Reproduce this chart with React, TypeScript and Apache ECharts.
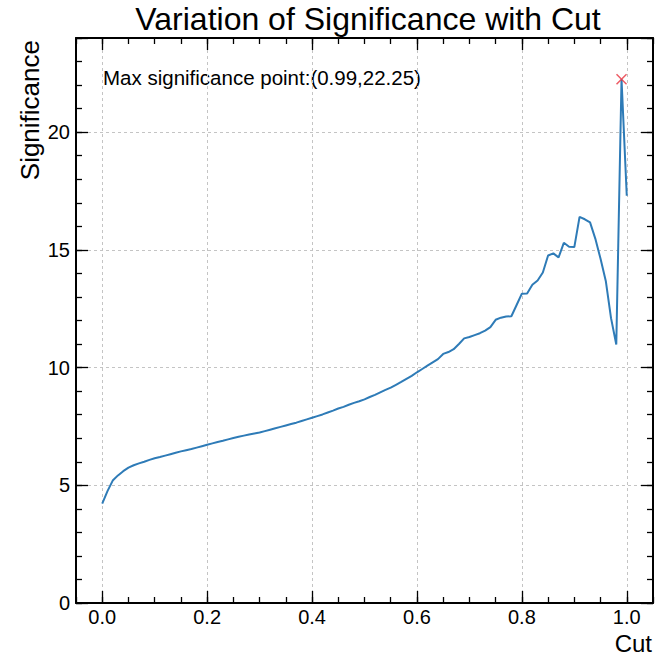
import React, { useEffect, useRef } from "react";
import * as echarts from "echarts";

const cuts = [
  0.0, 0.01, 0.02, 0.03, 0.04, 0.05, 0.06, 0.07, 0.08, 0.09,
  0.1, 0.11, 0.12, 0.13, 0.14, 0.15, 0.16, 0.17, 0.18, 0.19,
  0.2, 0.21, 0.22, 0.23, 0.24, 0.25, 0.26, 0.27, 0.28, 0.29,
  0.3, 0.31, 0.32, 0.33, 0.34, 0.35, 0.36, 0.37, 0.38, 0.39,
  0.4, 0.41, 0.42, 0.43, 0.44, 0.45, 0.46, 0.47, 0.48, 0.49,
  0.5, 0.51, 0.52, 0.53, 0.54, 0.55, 0.56, 0.57, 0.58, 0.59,
  0.6, 0.61, 0.62, 0.63, 0.64, 0.65, 0.66, 0.67, 0.68, 0.69,
  0.7, 0.71, 0.72, 0.73, 0.74, 0.75, 0.76, 0.77, 0.78, 0.79,
  0.8, 0.81, 0.82, 0.83, 0.84, 0.85, 0.86, 0.87, 0.88, 0.89,
  0.9, 0.91, 0.92, 0.93, 0.94, 0.95, 0.96, 0.97, 0.98, 0.99,
  1.0,
];

const significance = [
  4.22, 4.75, 5.2, 5.42, 5.6, 5.75, 5.85, 5.93, 6.0, 6.08,
  6.15, 6.2, 6.26, 6.32, 6.38, 6.44, 6.49, 6.54, 6.6, 6.66,
  6.72, 6.78, 6.84, 6.89, 6.95, 7.01, 7.06, 7.11, 7.16, 7.2,
  7.24, 7.3, 7.36, 7.42, 7.48, 7.54, 7.6, 7.66, 7.73, 7.8,
  7.87, 7.94, 8.01, 8.09, 8.17, 8.26, 8.33, 8.42, 8.5, 8.57,
  8.65, 8.75, 8.84, 8.95, 9.05, 9.15, 9.27, 9.39, 9.52, 9.65,
  9.8, 9.94, 10.08, 10.22, 10.36, 10.58, 10.66, 10.78, 11.0, 11.24,
  11.3, 11.38, 11.46, 11.57, 11.72, 12.03, 12.12, 12.17, 12.18, 12.66,
  13.14, 13.15, 13.52, 13.7, 14.04, 14.76, 14.85, 14.68, 15.3, 15.13,
  15.12, 16.4, 16.3, 16.17, 15.48, 14.62, 13.68, 12.1, 10.98, 22.25,
  17.3,
];

const xMajorTicks = [0, 0.2, 0.4, 0.6, 0.8, 1.0];
const yMajorTicks = [0, 5, 10, 15, 20];
const maxCut = 0.99;
const maxSignificance = 22.25;

const FONT = "'Liberation Sans', Arial, Helvetica, sans-serif";

export default function App() {
  const ref = useRef<HTMLDivElement>(null);

  useEffect(() => {
    if (!ref.current) return;
    const chart = echarts.init(ref.current, null, { renderer: "svg" });

    const X_MIN = -0.05;
    const X_MAX = 1.05;
    const Y_MIN = 0;
    const Y_MAX = 24;
    const isMajorX = (v: number) => xMajorTicks.some((t) => Math.abs(t - v) < 1e-6);
    const isMajorY = (v: number) => yMajorTicks.some((t) => Math.abs(t - v) < 1e-6);

    const tickStyle = { color: "#000", width: 1.3 };
    const frameLine = { show: true, onZero: false, lineStyle: { color: "#000", width: 2 } };
    const gridLine = { show: true, lineStyle: { color: "#c4c4c4", width: 1, type: [3, 3] } };

    const minorX = (position: string, labels: boolean) => ({
      type: "value",
      position,
      min: X_MIN,
      max: X_MAX,
      interval: 0.05,
      axisLine: frameLine,
      axisTick: { show: true, inside: true, length: 6, lineStyle: tickStyle },
      axisLabel: labels
        ? {
            show: true,
            fontSize: 20,
            color: "#000",
            fontFamily: FONT,
            margin: 4,
            formatter: (v: number) => (isMajorX(v) ? v.toFixed(1) : ""),
          }
        : { show: false },
      splitLine: { show: false },
    });
    const majorX = (position: string, grid: boolean) => ({
      type: "value",
      position,
      min: X_MIN,
      max: X_MAX,
      interval: 0.05,
      axisLine: { show: false, onZero: false },
      axisTick: { show: true, inside: true, length: 12, customValues: xMajorTicks, lineStyle: tickStyle },
      axisLabel: { show: false },
      splitLine: grid ? gridLine : { show: false },
    });
    const minorY = (position: string, labels: boolean) => ({
      type: "value",
      position,
      min: Y_MIN,
      max: Y_MAX,
      interval: 1,
      axisLine: frameLine,
      axisTick: { show: true, inside: true, length: 6, lineStyle: tickStyle },
      axisLabel: labels
        ? {
            show: true,
            fontSize: 20,
            color: "#000",
            fontFamily: FONT,
            margin: 6,
            formatter: (v: number) => (isMajorY(v) ? String(v) : ""),
          }
        : { show: false },
      splitLine: { show: false },
    });
    const majorY = (position: string, grid: boolean) => ({
      type: "value",
      position,
      min: Y_MIN,
      max: Y_MAX,
      interval: 5,
      axisLine: { show: false, onZero: false },
      axisTick: { show: true, inside: true, length: 12, lineStyle: tickStyle },
      axisLabel: { show: false },
      splitLine: grid ? gridLine : { show: false },
    });

    chart.setOption({
      animation: false,
      backgroundColor: "#fff",
      grid: { left: 76, right: 1, top: 38, bottom: 54, containLabel: false },
      xAxis: [minorX("bottom", true), majorX("bottom", true), minorX("top", false), majorX("top", false)],
      yAxis: [minorY("left", true), majorY("left", true), minorY("right", false), majorY("right", false)],
      series: [
        {
          type: "line",
          xAxisIndex: 0,
          yAxisIndex: 0,
          data: cuts.map((c, i) => [c, significance[i]]),
          symbol: "none",
          showSymbol: false,
          lineStyle: { color: "#2e7bb7", width: 2 },
          z: 3,
        },
        {
          type: "scatter",
          xAxisIndex: 0,
          yAxisIndex: 0,
          data: [[maxCut, maxSignificance]],
          symbol: "path://M0 0L10 10M10 0L0 10",
          symbolSize: 10,
          itemStyle: { color: "none", borderColor: "#e8333f", borderWidth: 1.5 },
          z: 4,
        },
      ],
      graphic: [
        {
          type: "text",
          x: 368,
          y: 19,
          style: {
            text: "Variation of Significance with Cut",
            fontSize: 32,
            fontFamily: FONT,
            fill: "#000",
            align: "center",
            verticalAlign: "middle",
          },
        },
        {
          type: "text",
          x: 103,
          y: 77,
          style: {
            text: `Max significance point:(${maxCut},${maxSignificance})`,
            fontSize: 20.5,
            fontFamily: FONT,
            fill: "#000",
            align: "left",
            verticalAlign: "middle",
          },
        },
        {
          type: "text",
          x: 30,
          y: 40,
          rotation: Math.PI / 2,
          style: {
            text: "Significance",
            fontSize: 26,
            fontFamily: FONT,
            fill: "#000",
            align: "right",
            verticalAlign: "middle",
          },
        },
        {
          type: "text",
          x: 652,
          y: 643,
          style: {
            text: "Cut",
            fontSize: 24,
            fontFamily: FONT,
            fill: "#000",
            align: "right",
            verticalAlign: "middle",
          },
        },
      ],
    });

    return () => chart.dispose();
  }, []);

  return (
    <div
      ref={ref}
      style={{ position: "absolute", left: 0, top: 0, width: 656, height: 657 }}
    />
  );
}
